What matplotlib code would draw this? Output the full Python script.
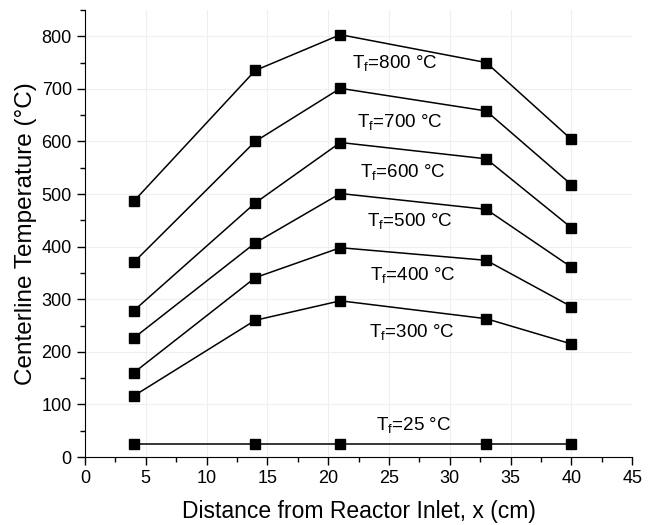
import numpy as np
import matplotlib.pyplot as plt
from matplotlib.ticker import MultipleLocator

plt.rcParams['font.family'] = ['Liberation Sans', 'DejaVu Sans']

# Distancia desde la entrada del reactor (cm)
x = [4, 14, 21, 33, 40]

# Temperatura en la línea central para cada temperatura de horno
t800 = [486, 735, 803, 750, 604]
t700 = [370, 600, 701, 658, 518]
t600 = [278, 483, 598, 567, 436]
t500 = [226, 407, 501, 471, 361]
t400 = [160, 341, 398, 374, 286]
t300 = [116, 260, 297, 263, 215]
t25 = [25, 25, 25, 25, 25]

series = [t800, t700, t600, t500, t400, t300, t25]
labels = ['800', '700', '600', '500', '400', '300', '25']
label_x = [25.5, 25.9, 26.1, 26.7, 27.0, 26.9, 27.0]
label_y = [747, 636, 541, 448, 345, 236, 59]

fig = plt.figure(figsize=(6.49, 5.25), dpi=100)
ax = fig.add_axes([0.131, 0.1295, 0.843, 0.8515])

for serie in series:
    ax.plot(x, serie, color='black', linewidth=1.1, marker='s',
            markersize=6.5, zorder=3)

for lab, lx, ly in zip(labels, label_x, label_y):
    ax.text(lx, ly, r'T$_\mathregular{f}$=' + lab + ' °C', ha='center',
            va='center', fontsize=13.5)

ax.set_xlim(0, 45)
ax.set_ylim(0, 850)
ax.xaxis.set_major_locator(MultipleLocator(5))
ax.xaxis.set_minor_locator(MultipleLocator(2.5))
ax.yaxis.set_major_locator(MultipleLocator(100))
ax.yaxis.set_minor_locator(MultipleLocator(50))
ax.set_yticks(np.arange(0, 801, 100))

ax.spines['top'].set_visible(False)
ax.spines['right'].set_visible(False)
ax.tick_params(which='major', direction='out', length=6, width=1, labelsize=13)
ax.tick_params(which='minor', direction='out', length=3.5, width=1)
ax.grid(True, which='major', color='#efefef', linewidth=0.8, zorder=0)

ax.set_xlabel('Distance from Reactor Inlet, x (cm)', fontsize=16.5, labelpad=9)
ax.set_ylabel('Centerline Temperature (°C)', fontsize=17.5, labelpad=3)

fig.savefig('out.png', dpi=100)
